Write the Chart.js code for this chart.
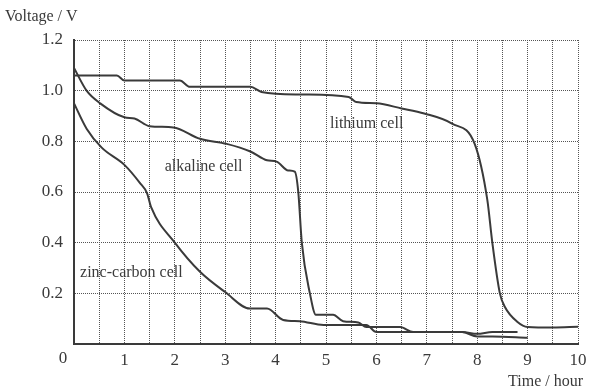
<!DOCTYPE html>
<html>
<head>
<meta charset="utf-8">
<script src="https://cdn.jsdelivr.net/npm/chart.js@4"></script>
<style>
  body { margin: 0; background: #fff; }
  canvas { display: block; }
</style>
</head>
<body>
<canvas id="cellChart" width="595" height="390"></canvas>
<script>
// discharge curves (time in hours, voltage in V)
const lithiumTime = [0, 0.85, 1.0, 2.1, 2.3, 3.5, 3.72, 4.5, 5.45, 5.6, 6.0, 6.5, 6.95, 7.5, 7.95, 8.2, 8.3, 8.45, 8.55, 8.8, 9.0, 9.5, 10];
const lithiumVoltage = [1.06, 1.06, 1.04, 1.04, 1.015, 1.015, 0.995, 0.985, 0.975, 0.955, 0.95, 0.93, 0.91, 0.87, 0.79, 0.57, 0.40, 0.20, 0.146, 0.087, 0.067, 0.065, 0.068];

const alkalineTime = [0, 0.25, 0.52, 1.0, 1.2, 1.5, 1.97, 2.5, 3.03, 3.5, 3.83, 4.02, 4.25, 4.38, 4.45, 4.52, 4.68, 4.8, 5.14, 5.34, 5.64, 5.8, 6.47, 6.73, 7.7, 8.0, 8.3, 8.8];
const alkalineVoltage = [1.09, 1.0, 0.95, 0.895, 0.89, 0.86, 0.855, 0.81, 0.79, 0.76, 0.725, 0.72, 0.685, 0.68, 0.6, 0.40, 0.20, 0.115, 0.115, 0.09, 0.085, 0.067, 0.067, 0.047, 0.047, 0.04, 0.047, 0.047];

const zincTime = [0, 0.25, 0.55, 1.0, 1.31, 1.45, 1.53, 2.0, 2.5, 3.0, 3.49, 3.83, 4.15, 4.48, 4.95, 5.8, 6.0, 7.7, 8.0, 8.3, 9.0];
const zincVoltage = [0.95, 0.85, 0.775, 0.707, 0.635, 0.595, 0.54, 0.40, 0.285, 0.205, 0.14, 0.14, 0.095, 0.09, 0.075, 0.075, 0.047, 0.047, 0.03, 0.03, 0.025];

const seriesNames = ["lithium cell", "alkaline cell", "zinc-carbon cell"];
// where each curve's name sits, in data units (time, voltage)
const labelTime = [5.08, 1.8, 0.12];
const labelVoltage = [0.87, 0.70, 0.28];

const xTitle = "Time / hour";
const yTitle = "Voltage / V";

const ink = "#3a3a3a";
const serif = '"Liberation Serif", "DejaVu Serif", serif';

function toPoints(times, volts) {
  return times.map((t, i) => ({ x: t, y: volts[i] }));
}

// extra text: axis titles, the shared "0" and the curve names
const textPlugin = {
  id: "textPlugin",
  afterDraw(chart) {
    const { ctx, scales } = chart;
    const x = scales.x;
    const y = scales.y;
    ctx.save();
    ctx.fillStyle = ink;
    ctx.textBaseline = "middle";

    ctx.font = "16px " + serif;
    ctx.textAlign = "left";
    ctx.fillText(yTitle, 5, 17);
    ctx.textAlign = "right";
    ctx.fillText(xTitle, 583, 382);

    ctx.font = "17px " + serif;
    ctx.textAlign = "center";
    ctx.fillText("0", x.getPixelForValue(0) - 11, y.getPixelForValue(0) + 15);

    ctx.font = "16px " + serif;
    ctx.textAlign = "left";
    seriesNames.forEach((name, i) => {
      ctx.fillText(name, x.getPixelForValue(labelTime[i]), y.getPixelForValue(labelVoltage[i]));
    });
    ctx.restore();
  },
};

const lineStyle = {
  borderColor: ink,
  borderWidth: 2,
  pointRadius: 0,
  fill: false,
  cubicInterpolationMode: "monotone",
};

const ctx = document.getElementById("cellChart").getContext("2d");
new Chart(ctx, {
  type: "line",
  data: {
    datasets: [
      { label: seriesNames[0], data: toPoints(lithiumTime, lithiumVoltage), ...lineStyle },
      { label: seriesNames[1], data: toPoints(alkalineTime, alkalineVoltage), ...lineStyle },
      { label: seriesNames[2], data: toPoints(zincTime, zincVoltage), ...lineStyle },
    ],
  },
  options: {
    responsive: false,
    animation: false,
    layout: { padding: { top: 40, right: 17, left: 0, bottom: 0 } },
    plugins: {
      legend: { display: false },
      tooltip: { enabled: false },
    },
    scales: {
      x: {
        type: "linear",
        min: 0,
        max: 10,
        afterFit(scale) { scale.height = 46; },
        ticks: {
          stepSize: 0.5,
          autoSkip: false,
          maxRotation: 0,
          padding: 6,
          color: ink,
          font: { family: serif, size: 17 },
          callback: (v) => (Number.isInteger(v) && v !== 0 ? String(v) : ""),
        },
        grid: { color: "#555", lineWidth: 1, drawTicks: false },
        border: { display: true, color: ink, width: 2, dash: [1, 1] },
      },
      y: {
        min: 0,
        max: 1.2,
        afterFit(scale) { scale.width = 74; },
        ticks: {
          stepSize: 0.2,
          padding: 11,
          color: ink,
          font: { family: serif, size: 17 },
          callback: (v) => (v === 0 ? "" : v.toFixed(1)),
        },
        grid: { color: "#555", lineWidth: 1, drawTicks: false },
        border: { display: true, color: ink, width: 2, dash: [1, 1] },
      },
    },
  },
  plugins: [textPlugin],
});
</script>
</body>
</html>
